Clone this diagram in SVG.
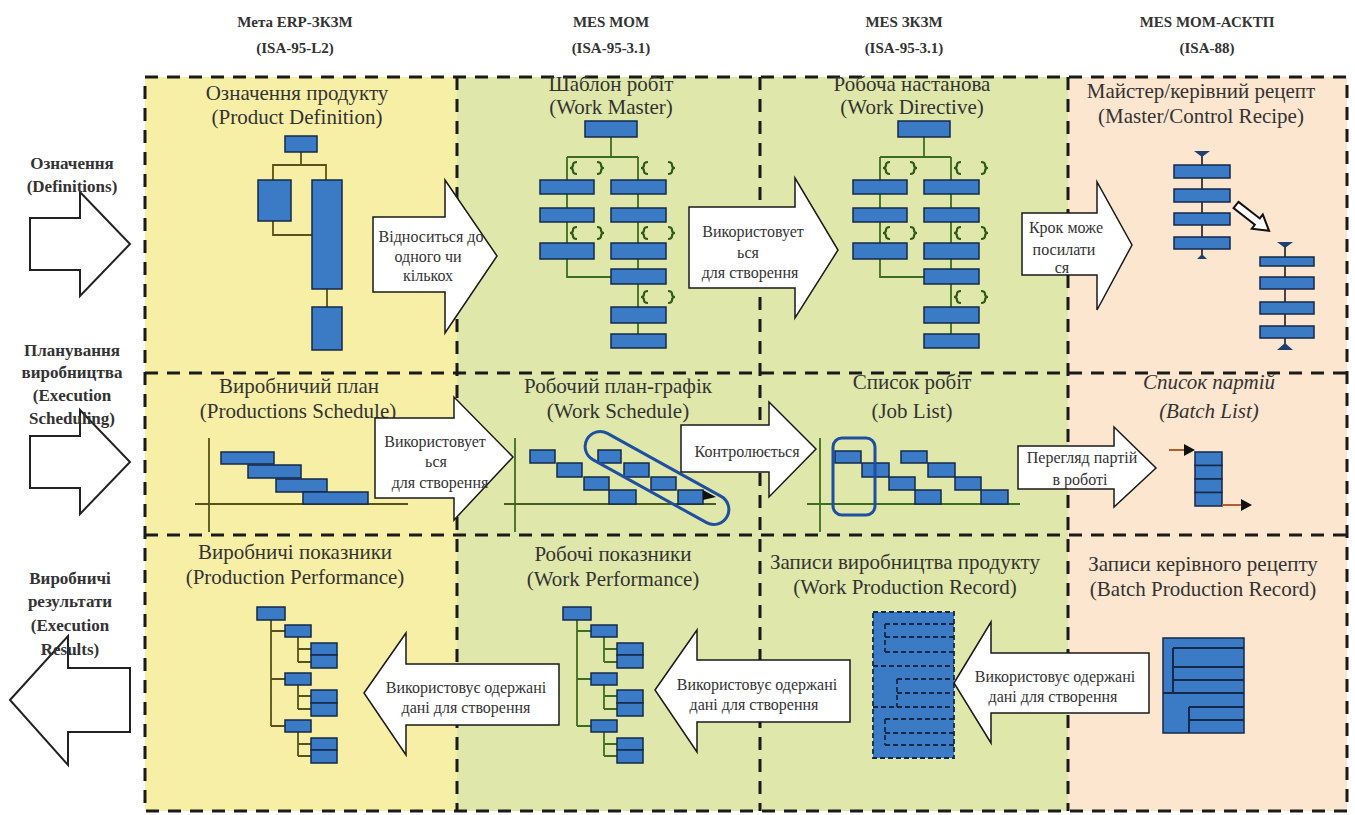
<svg xmlns="http://www.w3.org/2000/svg" width="1355" height="815" viewBox="0 0 1355 815">
<style>
.bgy{fill:#f8efa7}
.bgg{fill:#dfe8aa}
.bgp{fill:#fce6cf}
.grid{fill:none;stroke:#1a1a1a;stroke-width:3;stroke-dasharray:13 9}
.blk{fill:#3b7bc6;stroke:#14284a;stroke-width:1.5}
.lo{fill:none;stroke:#55531a;stroke-width:1.8}
.lg{fill:none;stroke:#3d6e1f;stroke-width:1.8}
.br{fill:none;stroke:#2f5a18;stroke-width:2.2}
.arw{fill:#fff;stroke:#1a1a1a;stroke-width:1.5}
.side{fill:#fff;stroke:#222;stroke-width:2}
.t{font-family:"Liberation Serif","Times New Roman",serif;font-size:21px;fill:#333;text-anchor:middle}
.ti{font-style:italic}
.a{font-family:"Liberation Serif","Times New Roman",serif;font-size:16px;fill:#333;text-anchor:middle}
.h{font-family:"Liberation Serif","Times New Roman",serif;font-size:15px;font-weight:bold;fill:#333;text-anchor:middle}
.s{font-family:"Liberation Serif","Times New Roman",serif;font-size:17px;font-weight:bold;fill:#333;text-anchor:middle}
.ring{fill:none;stroke:#1f4fa0;stroke-width:3}
</style>
<defs>
<path id="braces" d="M577 162 Q573 162 573 165 Q573 168 570 168 Q573 168 573 171 Q573 174 577 174 M597 162 Q601 162 601 165 Q601 168 604 168 Q601 168 601 171 Q601 174 597 174"/>
</defs>

<g id="backgrounds">
<rect class="bgy" x="145" y="77" width="312" height="734"/>
<rect class="bgg" x="457" y="77" width="611" height="734"/>
<rect class="bgp" x="1068" y="77" width="279" height="734"/>
</g>
<g id="grid">
<rect class="grid" x="145" y="77" width="1202" height="734"/>
<line class="grid" x1="145" y1="373" x2="1347" y2="373"/>
<line class="grid" x1="145" y1="535" x2="1347" y2="535"/>
<line class="grid" x1="457" y1="77" x2="457" y2="811"/>
<line class="grid" x1="760" y1="77" x2="760" y2="811"/>
<line class="grid" x1="1068" y1="77" x2="1068" y2="811"/>
</g>

<g id="headers">
<text class="h" x="295" y="27">Мета ERP-ЗКЗМ</text>
<text class="h" x="295" y="53">(ISA-95-L2)</text>
<text class="h" x="611" y="27">MES MOM</text>
<text class="h" x="611" y="53">(ISA-95-3.1)</text>
<text class="h" x="904" y="27">MES ЗКЗМ</text>
<text class="h" x="904" y="53">(ISA-95-3.1)</text>
<text class="h" x="1207" y="27">MES MOM-АСКТП</text>
<text class="h" x="1207" y="53">(ISA-88)</text>
</g>

<g id="row-definitions">
<polygon class="side" points="30,218 80,218 80,192 130,244 80,296 80,270 30,270"/>
<text class="s" x="72" y="169">Означення</text>
<text class="s" x="72" y="192">(Definitions)</text>
</g>
<g id="row-scheduling">
<polygon class="side" points="30,436 80,436 80,410 130,462 80,514 80,488 30,488"/>
<text class="s" x="72" y="356">Планування</text>
<text class="s" x="72" y="378">виробництва</text>
<text class="s" x="72" y="401">(Execution</text>
<text class="s" x="72" y="424">Scheduling)</text>
</g>
<g id="row-results">
<polygon class="side" points="10,700 68,636 68,668 130,668 130,732 68,732 68,765"/>
<text class="s" x="70" y="584">Виробничі</text>
<text class="s" x="70" y="607">результати</text>
<text class="s" x="70" y="631">(Execution</text>
<text class="s" x="70" y="655">Results)</text>
</g>

<!-- Row 1 -->
<g id="product-definition">
<text class="t" x="297" y="100">Означення продукту</text>
<text class="t" x="297" y="124">(Product Definition)</text>
<path class="lo" d="M301 152 V165 M273 180 V165 H326 V180 M273 221 V235 H312 M327 289 V307"/>
<rect class="blk" x="285" y="136" width="32" height="16"/>
<rect class="blk" x="258" y="180" width="33" height="41"/>
<rect class="blk" x="312" y="180" width="30" height="109"/>
<rect class="blk" x="312" y="307" width="30" height="43"/>
</g>

<g id="work-master">
<text class="t" x="611" y="91">Шаблон робіт</text>
<text class="t" x="611" y="114">(Work Master)</text>
<path class="lg" d="M611 137 V157 M567 157 H638 M567 157 V277 H611 M638 157 V334"/>
<use href="#braces" class="br"/>
<use href="#braces" class="br" transform="translate(71,0)"/>
<use href="#braces" class="br" transform="translate(0,65)"/>
<use href="#braces" class="br" transform="translate(71,65)"/>
<use href="#braces" class="br" transform="translate(71,129)"/>
<rect class="blk" x="585" y="121" width="52" height="16"/>
<rect class="blk" x="540" y="180" width="54" height="14"/>
<rect class="blk" x="540" y="208" width="54" height="14"/>
<rect class="blk" x="540" y="243" width="54" height="16"/>
<rect class="blk" x="611" y="180" width="55" height="14"/>
<rect class="blk" x="611" y="208" width="55" height="14"/>
<rect class="blk" x="611" y="243" width="55" height="16"/>
<rect class="blk" x="611" y="269" width="55" height="15"/>
<rect class="blk" x="611" y="307" width="55" height="16"/>
<rect class="blk" x="611" y="334" width="55" height="14"/>
</g>

<g id="work-directive">
<text class="t" x="912" y="91">Робоча настанова</text>
<text class="t" x="912" y="114">(Work Directive)</text>
<g transform="translate(313,0)">
<path class="lg" d="M611 137 V157 M567 157 H638 M567 157 V277 H611 M638 157 V334"/>
<use href="#braces" class="br"/>
<use href="#braces" class="br" transform="translate(71,0)"/>
<use href="#braces" class="br" transform="translate(0,65)"/>
<use href="#braces" class="br" transform="translate(71,65)"/>
<use href="#braces" class="br" transform="translate(71,129)"/>
<rect class="blk" x="585" y="121" width="52" height="16"/>
<rect class="blk" x="540" y="180" width="54" height="14"/>
<rect class="blk" x="540" y="208" width="54" height="14"/>
<rect class="blk" x="540" y="243" width="54" height="16"/>
<rect class="blk" x="611" y="180" width="55" height="14"/>
<rect class="blk" x="611" y="208" width="55" height="14"/>
<rect class="blk" x="611" y="243" width="55" height="16"/>
<rect class="blk" x="611" y="269" width="55" height="15"/>
<rect class="blk" x="611" y="307" width="55" height="16"/>
<rect class="blk" x="611" y="334" width="55" height="14"/>
</g>
</g>

<g id="master-control-recipe">
<text class="t" x="1201" y="98">Майстер/керівний рецепт</text>
<text class="t" x="1201" y="123">(Master/Control Recipe)</text>
<path d="M1202 155 V258 M1285 245 V348" stroke="#333" stroke-width="1.8" fill="none"/>
<path d="M1194 151 H1210 L1202 157 Z M1197 259 H1207 L1202 254 Z M1277 242 H1293 L1285 248 Z M1277 350 H1293 L1285 343 Z" fill="#1f3f70"/>
<rect class="blk" x="1174" y="165" width="56" height="13"/>
<rect class="blk" x="1174" y="189" width="56" height="13"/>
<rect class="blk" x="1174" y="213" width="56" height="12"/>
<rect class="blk" x="1174" y="237" width="56" height="12"/>
<rect class="blk" x="1260" y="257" width="54" height="9"/>
<rect class="blk" x="1260" y="277" width="54" height="12"/>
<rect class="blk" x="1260" y="302" width="54" height="12"/>
<rect class="blk" x="1260" y="326" width="54" height="12"/>
<polygon transform="translate(1236,205) rotate(38)" points="0,-4 27,-4 27,-9 42,0 27,9 27,4 0,4" fill="#fff" stroke="#111" stroke-width="2"/>
</g>

<!-- Row 2 -->
<g id="production-schedule">
<text class="t" x="299" y="393">Виробничий план</text>
<text class="t" x="298" y="418">(Productions Schedule)</text>
<path class="lo" d="M209 438 V532 M195 504 H408"/>
<rect class="blk" x="221" y="452" width="53" height="12"/>
<rect class="blk" x="248" y="465" width="53" height="13"/>
<rect class="blk" x="276" y="479" width="51" height="13"/>
<rect class="blk" x="303" y="492" width="65" height="12"/>
</g>

<g id="work-schedule">
<text class="t" x="618" y="393">Робочий план-графік</text>
<text class="t" x="618" y="418">(Work Schedule)</text>
<path class="lg" d="M515 438 V532"/>
<path d="M504 504 H716" stroke="#4a5a20" stroke-width="1.8" fill="none"/>
<rect class="blk" x="530" y="450" width="25" height="13"/>
<rect class="blk" x="557" y="463" width="25" height="14"/>
<rect class="blk" x="584" y="477" width="25" height="13"/>
<rect class="blk" x="609" y="490" width="27" height="14"/>
<rect class="blk" x="598" y="450" width="23" height="13"/>
<rect class="blk" x="624" y="463" width="25" height="14"/>
<rect class="blk" x="651" y="477" width="25" height="13"/>
<rect class="blk" x="678" y="490" width="25" height="14"/>
<path d="M703 490 L716 497 L703 500 Z" fill="#111"/>
<rect class="ring" x="577" y="463" width="160" height="30" rx="15" transform="rotate(29 657 478)"/>
</g>

<g id="job-list">
<text class="t" x="912" y="389">Список робіт</text>
<text class="t" x="912" y="418">(Job List)</text>
<path class="lg" d="M820 438 V532 M807 504 H1020"/>
<rect class="blk" x="835" y="451" width="26" height="12"/>
<rect class="blk" x="862" y="463" width="27" height="14"/>
<rect class="blk" x="889" y="477" width="26" height="13"/>
<rect class="blk" x="915" y="490" width="26" height="14"/>
<rect class="blk" x="901" y="451" width="26" height="12"/>
<rect class="blk" x="928" y="463" width="27" height="14"/>
<rect class="blk" x="955" y="477" width="26" height="13"/>
<rect class="blk" x="981" y="490" width="27" height="14"/>
<rect class="ring" x="833" y="438" width="42" height="77" rx="9"/>
</g>

<g id="batch-list">
<text class="t ti" x="1209" y="389">Список партій</text>
<text class="t ti" x="1209" y="418">(Batch List)</text>
<rect class="blk" x="1195" y="452" width="27" height="13.5"/>
<rect class="blk" x="1195" y="465.5" width="27" height="13.5"/>
<rect class="blk" x="1195" y="479" width="27" height="13.5"/>
<rect class="blk" x="1195" y="492.5" width="27" height="13.5"/>
<path d="M1169 450 H1186 M1222 505 H1243" stroke="#b0602a" stroke-width="1.8" fill="none"/>
<path d="M1184 444 L1195 450 L1184 456 Z M1241 499 L1252 505 L1241 511 Z" fill="#111"/>
</g>

<!-- Row 3 -->
<g id="production-performance">
<text class="t" x="295" y="559">Виробничі показники</text>
<text class="t" x="295" y="584">(Production Performance)</text>
<path class="lo" d="M271 620 V726 M271 631 H285 M271 679 H285 M271 726 H285 M298 637 V662 M298 649 H311 M298 662 H311 M298 685 V709 M298 696 H311 M298 709 H311 M298 732 V756 M298 744 H311 M298 756 H311"/>
<rect class="blk" x="257" y="607" width="28" height="13"/>
<rect class="blk" x="285" y="625" width="26" height="12"/>
<rect class="blk" x="285" y="673" width="26" height="12"/>
<rect class="blk" x="285" y="720" width="26" height="12"/>
<rect class="blk" x="311" y="643" width="26" height="12"/>
<rect class="blk" x="311" y="655" width="26" height="13"/>
<rect class="blk" x="311" y="690" width="26" height="13"/>
<rect class="blk" x="311" y="703" width="26" height="13"/>
<rect class="blk" x="311" y="738" width="26" height="12"/>
<rect class="blk" x="311" y="750" width="26" height="13"/>
</g>

<g id="work-performance">
<text class="t" x="613" y="561">Робочі показники</text>
<text class="t" x="613" y="586">(Work Performance)</text>
<g transform="translate(306,0)">
<path class="lg" d="M271 620 V726 M271 631 H285 M271 679 H285 M271 726 H285 M298 637 V662 M298 649 H311 M298 662 H311 M298 685 V709 M298 696 H311 M298 709 H311 M298 732 V756 M298 744 H311 M298 756 H311"/>
<rect class="blk" x="257" y="607" width="28" height="13"/>
<rect class="blk" x="285" y="625" width="26" height="12"/>
<rect class="blk" x="285" y="673" width="26" height="12"/>
<rect class="blk" x="285" y="720" width="26" height="12"/>
<rect class="blk" x="311" y="643" width="26" height="12"/>
<rect class="blk" x="311" y="655" width="26" height="13"/>
<rect class="blk" x="311" y="690" width="26" height="13"/>
<rect class="blk" x="311" y="703" width="26" height="13"/>
<rect class="blk" x="311" y="738" width="26" height="12"/>
<rect class="blk" x="311" y="750" width="26" height="13"/>
</g>
</g>

<g id="work-production-record">
<text class="t" x="905" y="569">Записи виробництва продукту</text>
<text class="t" x="905" y="594">(Work Production Record)</text>
<rect x="873" y="612" width="81" height="146" fill="#3b7bc6" stroke="#14284a" stroke-width="1.8" stroke-dasharray="5 3"/>
<path d="M885 624 V652 M885 624 H954 M885 637 H954 M885 652 H954 M873 666 H954 M897 679 V707 M897 679 H954 M897 693 H954 M873 707 H954 M885 719 V745 M885 719 H954 M885 733 H954 M885 745 H954" stroke="#14284a" stroke-width="1.8" stroke-dasharray="5 3" fill="none"/>
</g>

<g id="batch-production-record">
<text class="t" x="1203" y="571">Записи керівного рецепту</text>
<text class="t" x="1203" y="596">(Batch Production Record)</text>
<rect class="blk" x="1163" y="638" width="81" height="95"/>
<path d="M1173 648 H1244 M1173 648 V693 M1173 667 H1244 M1173 680 H1244 M1163 693 H1244 M1189 707 V733 M1189 707 H1244 M1189 720 H1244" stroke="#14284a" stroke-width="2" fill="none"/>
</g>

<g id="connectors">
<polygon class="arw" points="373,217 445,217 445,180 497,256 445,333 445,292 373,292"/>
<text class="a" x="431" y="242">Відноситься до</text>
<text class="a" x="428" y="262">одного чи</text>
<text class="a" x="428" y="281">кількох</text>

<polygon class="arw" points="689,207 795,207 795,178 838,250 795,318 795,288 689,288"/>
<text class="a" x="753" y="237">Використовует</text>
<text class="a" x="748" y="258">ься</text>
<text class="a" x="750" y="278">для створення</text>

<polygon class="arw" points="1022,213 1097,213 1097,182 1132,245 1097,310 1097,275 1022,275"/>
<text class="a" x="1066" y="233">Крок може</text>
<text class="a" x="1064" y="255">посилати</text>
<text class="a" x="1062" y="273">ся</text>

<polygon class="arw" points="375,418 454,418 454,397 513,457 454,520 454,498 375,498"/>
<text class="a" x="435" y="447">Використовует</text>
<text class="a" x="436" y="467">ься</text>
<text class="a" x="440" y="488">для створення</text>

<polygon class="arw" points="681,425 769,425 769,402 816,449 769,497 769,472 681,472"/>
<text class="a" x="747" y="457">Контролюється</text>

<polygon class="arw" points="1018,446 1114,446 1114,427 1156,468 1114,507 1114,489 1018,489"/>
<text class="a" x="1082" y="463">Перегляд партій</text>
<text class="a" x="1080" y="485">в роботі</text>

<polygon class="arw" points="364,693 406,633 406,664 559,664 559,725 406,725 406,755"/>
<text class="a" x="466" y="693">Використовує одержані</text>
<text class="a" x="466" y="713">дані для створення</text>

<polygon class="arw" points="655,690 697,630 697,660 850,660 850,722 697,722 697,752"/>
<text class="a" x="757" y="690">Використовує одержані</text>
<text class="a" x="754" y="710">дані для створення</text>

<polygon class="arw" points="954,683 991,622 991,653 1149,653 1149,713 991,713 991,743"/>
<text class="a" x="1055" y="682">Використовує одержані</text>
<text class="a" x="1053" y="702">дані для створення</text>
</g>
</svg>
